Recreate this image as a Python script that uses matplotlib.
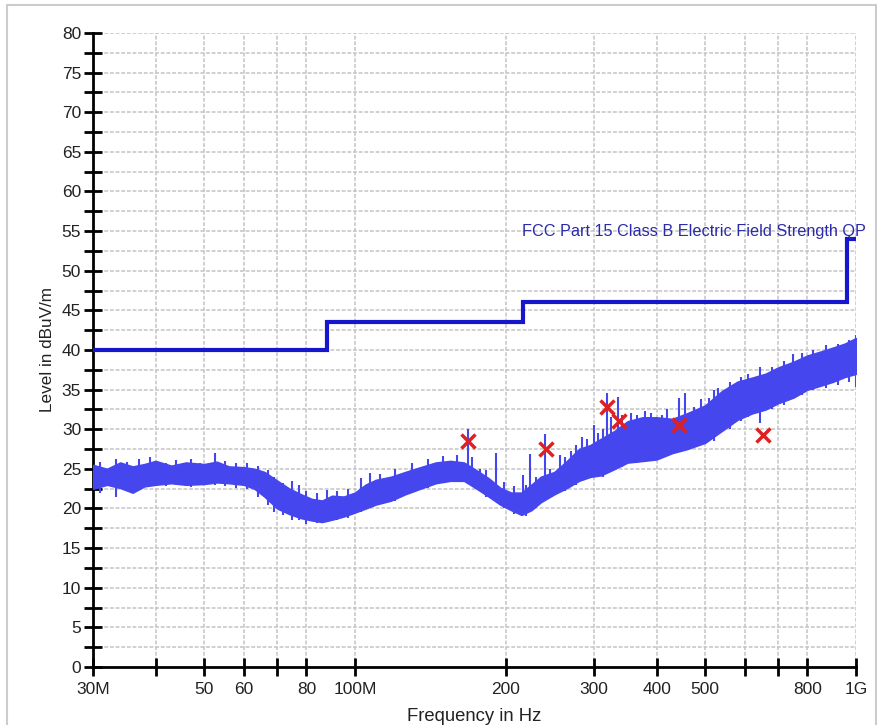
import matplotlib
matplotlib.use('Agg')
import matplotlib.pyplot as plt
from matplotlib.patches import Rectangle
from matplotlib.ticker import FixedLocator, NullFormatter, FixedFormatter

plt.rcParams['font.family'] = ['Liberation Sans', 'DejaVu Sans']

# measured trace, read as an envelope (MHz, dBuV/m)
trace_freq = [30, 32, 34, 36, 38, 40, 43, 46, 50, 53, 56, 60, 63, 66, 70, 74, 78, 82, 86, 90,
              95, 100, 105, 110, 118, 126, 135, 145, 155, 165, 175, 185, 195, 205, 215, 225,
              235, 250, 265, 280, 295, 310, 330, 350, 375, 400, 430, 460, 500, 540, 580, 620,
              660, 700, 750, 800, 850, 900, 950, 1000]
trace_upper = [25.5, 25.0, 25.8, 25.3, 25.6, 26.0, 25.4, 25.8, 25.6, 25.9, 25.3, 25.2, 25.0, 24.6,
               23.5, 22.5, 21.8, 21.2, 21.0, 21.6, 21.5, 22.0, 23.0, 23.6, 24.0, 24.6, 25.2, 25.8,
               26.0, 25.8, 24.8, 23.8, 22.6, 22.0, 22.0, 23.0, 24.0, 24.6, 26.0, 27.5, 28.0, 28.8,
               29.8, 31.0, 31.5, 31.5, 31.3, 32.0, 33.0, 34.8, 36.0, 36.5, 37.0, 37.8, 38.5, 39.3,
               39.8, 40.3, 40.8, 41.5]
trace_lower = [22.5, 23.0, 22.6, 22.0, 22.8, 23.0, 23.2, 23.0, 23.1, 23.3, 23.2, 23.0, 22.5, 21.5,
               20.0, 19.3, 18.8, 18.5, 18.3, 18.6, 19.0, 19.5, 20.0, 20.5, 21.0, 21.8, 22.5, 23.2,
               23.5, 23.5, 22.5, 21.5, 20.5, 19.8, 19.2, 19.8, 20.8, 21.8, 22.6, 23.5, 24.0, 24.2,
               25.0, 25.8, 26.0, 26.2, 27.0, 27.5, 28.3, 29.8, 31.2, 32.0, 32.5, 33.3, 34.0, 35.0,
               35.5, 36.0, 36.6, 37.0]

# noise hairs and narrow spikes sticking out of the floor
spike_freq = [31, 33.4, 35, 37, 39, 42, 44, 47, 49, 52.6, 55, 58, 61, 64, 67, 69, 72, 75, 77.5,
              80, 84, 88, 92, 97, 103, 107, 112, 120, 130, 140, 150, 160, 168, 171.5, 178, 183,
              191, 198, 208, 216, 220, 224, 230, 240, 245, 257, 262, 270, 276, 284, 290, 300,
              306, 312, 318, 325, 335, 342, 355, 365, 380, 390, 410, 420, 443, 456, 475, 490,
              510, 520, 530, 560, 590, 610, 642, 680, 720, 750, 780, 820, 870, 920, 970, 1000]
spike_top = [25.9, 26.3, 25.9, 26.2, 26.5, 25.8, 26.1, 26.3, 25.7, 27.0, 26.0, 25.7, 25.8, 25.4,
             24.8, 24.0, 23.2, 23.5, 23.0, 22.2, 22.0, 22.3, 22.2, 22.5, 23.8, 24.5, 24.3, 25.0,
             25.8, 26.3, 26.6, 26.8, 30.0, 26.5, 25.0, 24.8, 27.0, 23.3, 22.8, 24.2, 23.0, 26.9,
             24.0, 29.4, 25.0, 26.8, 26.5, 27.3, 28.0, 29.0, 28.8, 30.5, 29.5, 30.0, 34.6, 31.5,
             34.1, 31.8, 32.0, 31.8, 32.3, 32.0, 31.8, 32.5, 33.9, 34.6, 32.8, 33.8, 34.0, 35.0,
             35.2, 36.0, 36.6, 37.0, 37.9, 37.8, 38.6, 39.5, 39.6, 40.0, 40.6, 40.8, 41.3, 41.9]
spike_bottom = [22.0, 21.4, 22.4, 22.6, 22.8, 22.9, 23.0, 22.7, 23.0, 23.0, 22.8, 22.6, 22.4, 21.5,
                20.5, 19.6, 19.2, 18.6, 18.5, 18.0, 18.2, 18.3, 18.6, 18.8, 19.5, 20.0, 20.6, 21.0,
                22.0, 22.6, 23.2, 23.5, 24.0, 23.5, 22.5, 21.5, 21.0, 20.0, 19.3, 19.5, 19.0, 20.0,
                20.5, 21.5, 21.5, 22.5, 22.2, 22.8, 23.0, 23.5, 23.8, 24.0, 24.3, 24.0, 24.5, 25.0,
                25.5, 25.2, 26.0, 25.8, 26.2, 26.0, 26.5, 26.8, 27.5, 27.5, 27.8, 28.2, 28.5, 28.5,
                29.5, 30.0, 31.0, 31.5, 30.8, 32.5, 33.0, 34.0, 34.3, 35.0, 35.2, 35.6, 36.0, 35.3]

# final QP measurements
peak_freq = [168, 240.6, 318, 336, 443, 651]
peak_level = [28.5, 27.5, 32.8, 31.0, 30.5, 29.3]

# FCC Part 15 class B limit
limit_edges = [30, 88, 216, 960, 1000]
limit_levels = [40, 43.5, 46, 54]

x_ticks = [30, 40, 50, 60, 70, 80, 100, 200, 300, 400, 500, 600, 700, 800, 1000]
x_labels = ['30M', '', '50', '60', '', '80', '100M', '200', '300', '400', '500', '', '', '800', '1G']

fig = plt.figure(figsize=(8.77, 7.25), dpi=100)
ax = fig.add_axes([0.106, 0.080, 0.870, 0.8745])

trace_color = '#4646ee'
ax.fill_between(trace_freq, trace_lower, trace_upper, color=trace_color, lw=1.2, zorder=3)
ax.vlines(spike_freq, spike_bottom, spike_top, color=trace_color, lw=1.5, zorder=3)

ax.stairs(limit_levels, limit_edges, baseline=None, color='#1616cc', lw=3, zorder=4)
ax.text(1045, 54.9, 'FCC Part 15 Class B Electric Field Strength QP', color='#2a2aaa',
        fontsize=11.7, ha='right', va='center', clip_on=False, zorder=5)

ax.plot(peak_freq, peak_level, ls='none', marker='x', color='#e02020', ms=10, mew=2.5, zorder=6)

ax.set_xscale('log')
ax.set_xlim(30, 1000)
ax.set_ylim(0, 80)

ax.xaxis.set_major_locator(FixedLocator(x_ticks))
ax.xaxis.set_major_formatter(FixedFormatter(x_labels))
ax.xaxis.set_minor_locator(FixedLocator([]))
ax.xaxis.set_minor_formatter(NullFormatter())
ax.yaxis.set_major_locator(FixedLocator(range(0, 81, 5)))
ax.yaxis.set_minor_locator(FixedLocator([v + 2.5 for v in range(0, 80, 5)]))

ax.tick_params(axis='both', which='both', direction='inout', width=2, color='black',
               labelsize=12.5, colors='#222222')
ax.tick_params(axis='both', which='major', length=13)
ax.tick_params(axis='y', which='minor', length=13)
ax.tick_params(axis='x', pad=4)
ax.tick_params(axis='y', pad=2)

ax.grid(True, which='both', color='#c4c4c4', ls=(0, (2.5, 1.2)), lw=1.1, zorder=0)
for side in ['top', 'right']:
    ax.spines[side].set_visible(False)
for side in ['left', 'bottom']:
    ax.spines[side].set_linewidth(2)
ax.set_axisbelow(True)

ax.set_ylabel('Level in dBuV/m', fontsize=12.3, color='#222222', labelpad=5)
ax.set_xlabel('Frequency in Hz', fontsize=13.3, color='#222222', labelpad=8)

fig.patches.append(Rectangle((7 / 877, -0.05), 869 / 877, 1.05 - 5 / 725, transform=fig.transFigure,
                             fill=False, edgecolor='#cccccc', lw=1.5))

fig.savefig('out.png', dpi=100)
